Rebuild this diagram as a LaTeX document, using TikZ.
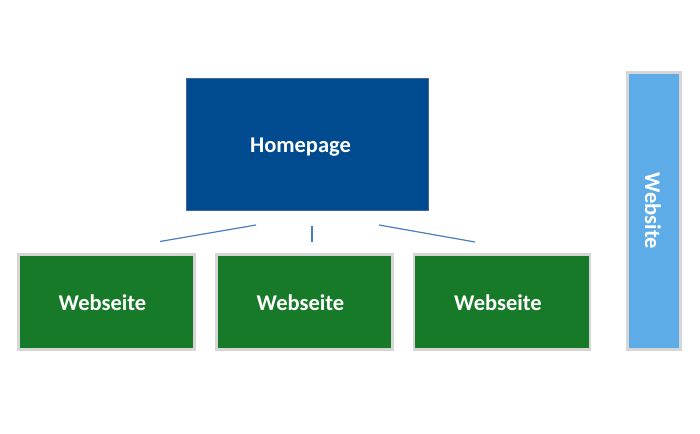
\documentclass[tikz,border=0pt]{standalone}
\usepackage{fontspec}
\setmainfont{Carlito}
\definecolor{homeblue}{HTML}{004A8F}
\definecolor{homeedge}{HTML}{41679A}
\definecolor{pagegreen}{HTML}{177A28}
\definecolor{boxedge}{HTML}{D6D6D6}
\definecolor{siteblue}{HTML}{5DACE8}
\definecolor{linkblue}{HTML}{4A7DC0}
\begin{document}
\begin{tikzpicture}[x=1pt,y=-1pt,
  lbl/.style={text=white,font=\fontsize{22.5}{26}\selectfont\bfseries,inner sep=0pt},
  homebox/.style={fill=homeblue,draw=homeedge,line width=1.8pt,minimum width=242pt,minimum height=132pt},
  pagebox/.style={fill=pagegreen,draw=boxedge,line width=2.8pt,minimum width=176pt,minimum height=95pt},
  sitebox/.style={fill=siteblue,draw=boxedge,line width=2.8pt,minimum width=53pt,minimum height=277pt},
  link/.style={draw=linkblue,line width=1.2pt}]
\useasboundingbox (0,0) rectangle (700,433);
\node[homebox] (home) at (307.5,144.5) {};
\node[pagebox] (p1) at (106.5,302) {};
\node[pagebox] (p2) at (304.5,302) {};
\node[pagebox] (p3) at (502,302) {};
\node[sitebox] (site) at (654,211) {};
\node[lbl] (homelbl) at ([xshift=-7pt,yshift=-3pt]home.center) {Homepage};
\node[lbl] (p1lbl) at ([xshift=-4pt,yshift=-1pt]p1.center) {Webseite};
\node[lbl] (p2lbl) at ([xshift=-4pt,yshift=-1pt]p2.center) {Webseite};
\node[lbl] (p3lbl) at ([xshift=-4pt,yshift=-1pt]p3.center) {Webseite};
\node[lbl,rotate=-90] (sitelbl) at ([xshift=-1pt]site.center) {Website};
\coordinate (l1a) at (256,225); \coordinate (l1b) at (160,241.5);
\coordinate (l2a) at (312,226); \coordinate (l2b) at (312,242);
\coordinate (l3a) at (379,225); \coordinate (l3b) at (475,242);
\draw[link] (l1a) -- (l1b);
\draw[link] (l2a) -- (l2b);
\draw[link] (l3a) -- (l3b);
\end{tikzpicture}
\end{document}
